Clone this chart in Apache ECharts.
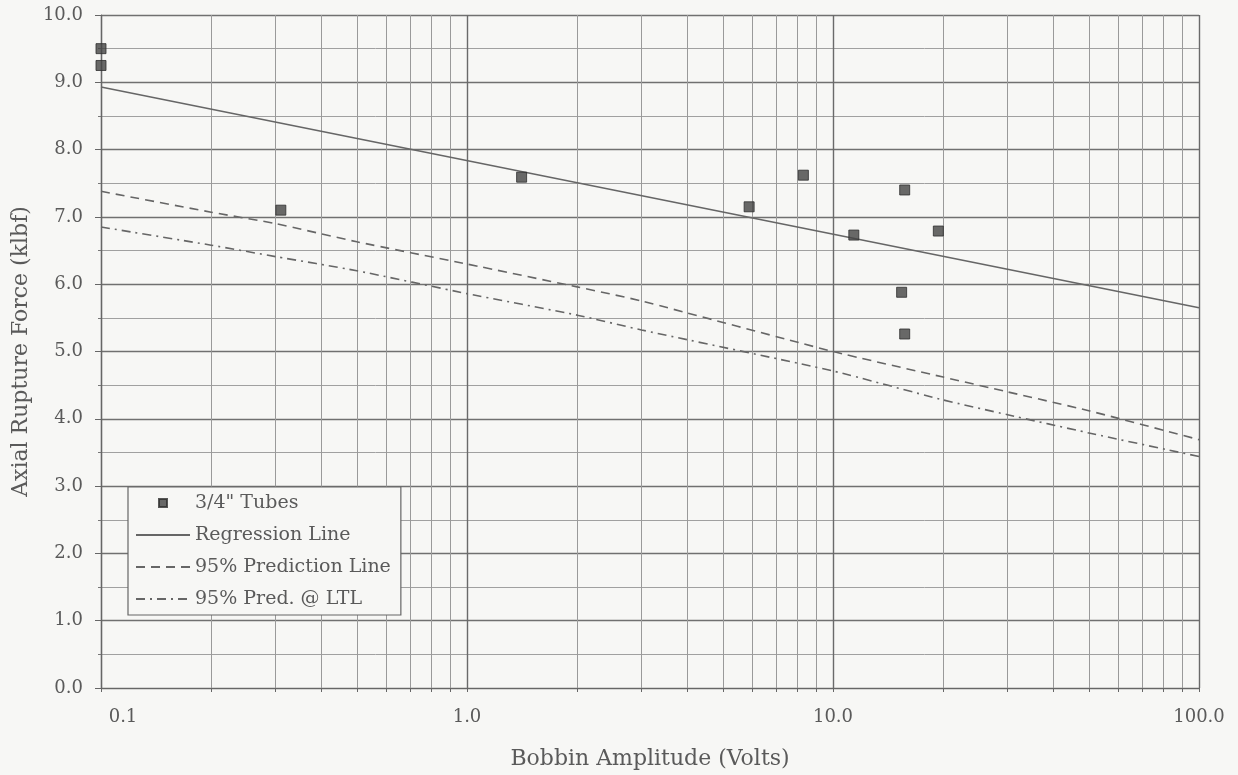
<!DOCTYPE html>
<html lang="en">
<head>
    <meta charset="UTF-8">
    <title>Axial Rupture Force vs Bobbin Amplitude</title>
    <style>
        html, body { margin: 0; padding: 0; background: #f7f7f5; }
    </style>
</head>
<body>

    <div id="echarts" style="width: 1238px; height: 775px"></div>
    <script src="https://cdn.jsdelivr.net/npm/echarts@6/dist/echarts.min.js"></script>
    <script>
        // measured points, 3/4" tubes
        const tubeVolts = [0.1, 0.1, 0.31, 1.41, 5.9, 8.3, 11.4, 15.4, 15.7, 15.7, 19.4];
        const tubeForce = [9.5, 9.25, 7.1, 7.59, 7.15, 7.62, 6.73, 5.88, 5.26, 7.40, 6.79];

        // regression is straight on the log axis, the two prediction bands curve
        const regVolts = [0.1, 100];
        const regression = [8.93, 5.65];
        const bandVolts = [0.1, 0.2, 0.3, 0.5, 1, 2, 3, 10, 20, 30, 50, 100];
        const prediction = [7.38, 7.07, 6.90, 6.63, 6.30, 5.96, 5.75, 5.00, 4.62, 4.40, 4.12, 3.69];
        const predLTL = [6.85, 6.58, 6.41, 6.20, 5.86, 5.54, 5.32, 4.71, 4.28, 4.06, 3.79, 3.44];

        // tick positions
        const decadeTicks = [0.1, 1, 10, 100];
        const minorTicks = [0.1, 0.2, 0.3, 0.4, 0.5, 0.6, 0.7, 0.8, 0.9,
                            1, 2, 3, 4, 5, 6, 7, 8, 9,
                            10, 20, 30, 40, 50, 60, 70, 80, 90, 100];

        const names = ['3/4" Tubes', 'Regression Line', '95% Prediction Line', '95% Pred. @ LTL'];

        const font = 'DejaVu Serif';
        const textColor = '#5a5a5a';
        const lineColor = '#666';

        function pairs(xs, ys) {
            return xs.map((x, i) => [x, ys[i]]);
        }

        function bandSeries(name, xs, ys, dash) {
            return {
                name: name,
                type: 'line',
                symbol: 'none',
                smooth: 0.2,
                itemStyle: { color: lineColor, opacity: 0 },
                lineStyle: { color: lineColor, width: 1.6, type: dash },
                data: pairs(xs, ys)
            };
        }

        const option = {
            backgroundColor: '#f7f7f5',
            textStyle: { fontFamily: font, color: textColor },
            grid: { left: 101, right: 39, top: 15, bottom: 87 },
            legend: {
                orient: 'vertical',
                left: 128,
                top: 487,
                backgroundColor: '#f7f7f5',
                borderColor: '#666',
                borderWidth: 1.2,
                padding: [6, 10, 6, 7],
                itemWidth: 54,
                itemHeight: 14,
                itemGap: 12,
                textStyle: { fontFamily: font, fontSize: 19, color: textColor, lineHeight: 20 },
                data: [
                    { name: names[0], icon: 'path://M0,0M54,14M23,3h8v8h-8z' },
                    names[1], names[2], names[3]
                ]
            },
            xAxis: [
                {
                    type: 'log',
                    logBase: 10,
                    min: 0.1,
                    max: 100,
                    name: 'Bobbin Amplitude (Volts)',
                    nameLocation: 'middle',
                    nameGap: 60,
                    nameTextStyle: { fontFamily: font, fontSize: 22, color: textColor },
                    axisLine: { lineStyle: { color: lineColor, width: 1.2 } },
                    axisTick: { customValues: minorTicks, length: 4, lineStyle: { color: lineColor } },
                    axisLabel: {
                        customValues: decadeTicks,
                        margin: 20,
                        fontFamily: font,
                        fontSize: 18,
                        color: textColor,
                        formatter: v => (v < 1 ? '{first|' + v + '}' : v.toFixed(1)),
                        rich: {
                            first: { fontFamily: font, fontSize: 18, color: textColor, padding: [0, 0, 0, 44] }
                        }
                    },
                    splitLine: { show: true, lineStyle: { color: '#9a9a9a', width: 1 } }
                },
                {
                    type: 'log',
                    logBase: 10,
                    min: 0.1,
                    max: 100,
                    position: 'bottom',
                    axisLine: { show: false },
                    axisTick: { show: false },
                    axisLabel: { show: false },
                    splitLine: { show: true, lineStyle: { color: '#6a6a6a', width: 1.4 } }
                }
            ],
            yAxis: {
                type: 'value',
                min: 0,
                max: 10,
                interval: 1,
                name: 'Axial Rupture Force (klbf)',
                nameLocation: 'middle',
                nameGap: 66,
                nameTextStyle: { fontFamily: font, fontSize: 22, color: textColor },
                axisLine: { show: true, lineStyle: { color: lineColor, width: 1.2 } },
                axisTick: { show: true, length: 6, lineStyle: { color: lineColor } },
                minorTick: { show: true, splitNumber: 2, length: 3, lineStyle: { color: '#777' } },
                axisLabel: {
                    margin: 18,
                    fontFamily: font,
                    fontSize: 18,
                    color: textColor,
                    formatter: v => v.toFixed(1)
                },
                splitLine: { show: true, lineStyle: { color: '#707070', width: 1.3 } },
                minorSplitLine: { show: true, lineStyle: { color: '#a0a0a0', width: 1 } }
            },
            series: [
                {
                    name: names[0],
                    type: 'scatter',
                    symbol: 'rect',
                    symbolSize: 10,
                    itemStyle: { color: '#444', borderColor: '#2e2e2e', borderWidth: 1 },
                    data: pairs(tubeVolts, tubeForce),
                    z: 5
                },
                bandSeries(names[1], regVolts, regression, 'solid'),
                bandSeries(names[2], bandVolts, prediction, [9, 6]),
                bandSeries(names[3], bandVolts, predLTL, [9, 5, 2, 5])
            ]
        };

        var chartDom = document.getElementById("echarts");
        var myCharts = echarts.init(chartDom);
        myCharts.setOption(option);
    </script>
</body>
</html>
